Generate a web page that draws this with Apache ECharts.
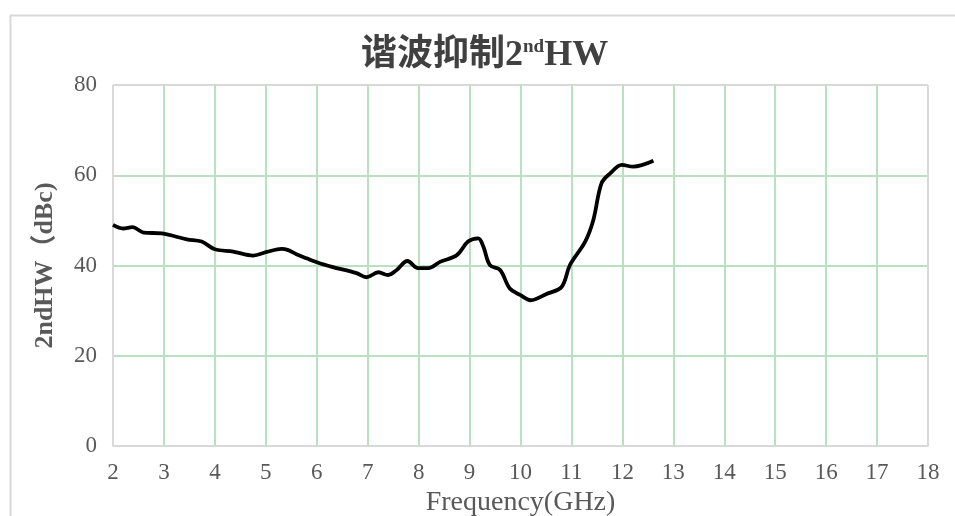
<!DOCTYPE html>
<html>
<head>
<meta charset="utf-8">
<script src="https://cdn.jsdelivr.net/npm/echarts@6/dist/echarts.min.js"></script>
<style>html,body{margin:0;padding:0;background:#fff}#c{width:955px;height:516px}</style>
</head>
<body>
<div id="c"></div>
<script>
const freqGHz = [2.0, 2.2, 2.38, 2.6, 2.96, 3.45, 3.74, 4.0, 4.36, 4.75, 5.02, 5.31, 5.44, 5.6, 5.8, 6.03, 6.3, 6.78, 6.98, 7.21, 7.4, 7.57, 7.78, 7.99, 8.19, 8.42, 8.75, 8.97, 9.17, 9.27, 9.4, 9.6, 9.79, 9.99, 10.2, 10.51, 10.81, 10.97, 11.27, 11.43, 11.59, 11.76, 11.99, 12.21, 12.61];
const hw2dBc = [49.0, 48.2, 48.5, 47.3, 47.1, 45.8, 45.3, 43.6, 43.1, 42.2, 43.0, 43.7, 43.4, 42.5, 41.6, 40.6, 39.7, 38.3, 37.4, 38.5, 37.9, 39.0, 41.0, 39.4, 39.4, 40.8, 42.3, 45.3, 46.0, 44.2, 40.1, 39.0, 34.9, 33.5, 32.3, 33.7, 35.3, 40.1, 45.3, 50.1, 58.2, 60.4, 62.3, 61.9, 63.2];
const xTicks = [2, 3, 4, 5, 6, 7, 8, 9, 10, 11, 12, 13, 14, 15, 16, 17, 18];
const yTicks = [0, 20, 40, 60, 80];

const GREEN = '#b9e0c1', GRAY = '#d9d9d9';
const FONT = "'Liberation Serif', 'Times New Roman', 'Noto Sans CJK SC', serif";
const xColors = xTicks.map((v, i) => (i === 0 || i === xTicks.length - 1) ? GRAY : GREEN);
const yColors = yTicks.map((v, i) => (i === 0 || i === yTicks.length - 1) ? GRAY : GREEN);

const chart = echarts.init(document.getElementById('c'));
chart.setOption({
  animation: false,
  backgroundColor: '#fff',
  graphic: [{
    type: 'rect', left: 8, top: 13, z: -10,
    shape: { width: 1100, height: 700 },
    style: { fill: 'none', stroke: GRAY, lineWidth: 2 }
  }],
  title: {
    text: '谐波抑制2{sup|nd}HW',
    left: 356, top: 33,
    textStyle: {
      fontFamily: FONT, fontSize: 36, fontWeight: 'bold', color: '#404040',
      rich: { sup: { fontFamily: FONT, fontSize: 19, fontWeight: 'bold', color: '#404040', verticalAlign: 'top', padding: [0, 0, 14, 0] } }
    }
  },
  grid: { left: 113, right: 27, top: 85, bottom: 70, show: true, borderColor: GRAY, borderWidth: 1, containLabel: false, outerBoundsMode: 'none' },
  xAxis: {
    type: 'value', min: xTicks[0], max: xTicks[xTicks.length - 1], interval: 1,
    name: 'Frequency(GHz)', nameLocation: 'middle', nameGap: 33,
    nameTextStyle: { fontFamily: FONT, fontSize: 28, color: '#595959' },
    axisLine: { show: true, lineStyle: { color: GRAY, width: 1 } },
    axisTick: { show: false },
    axisLabel: { fontFamily: FONT, fontSize: 23, color: '#595959', margin: 15 },
    splitLine: { show: true, lineStyle: { color: xColors, width: 2 } }
  },
  yAxis: {
    type: 'value', min: yTicks[0], max: yTicks[yTicks.length - 1], interval: 20,
    name: '2ndHW（dBc)', nameLocation: 'middle', nameGap: 55,
    nameTextStyle: { fontFamily: FONT, fontSize: 26, fontWeight: 'bold', color: '#595959' },
    axisLine: { show: true, lineStyle: { color: GRAY, width: 1 } },
    axisTick: { show: false },
    axisLabel: { fontFamily: FONT, fontSize: 23, color: '#595959', margin: 16 },
    splitLine: { show: true, lineStyle: { color: yColors, width: 2 } }
  },
  series: [{
    type: 'line',
    data: freqGHz.map((f, i) => [f, hw2dBc[i]]),
    smooth: 0.35,
    showSymbol: false,
    lineStyle: { color: '#000', width: 3.8 }
  }]
});
</script>
</body>
</html>
